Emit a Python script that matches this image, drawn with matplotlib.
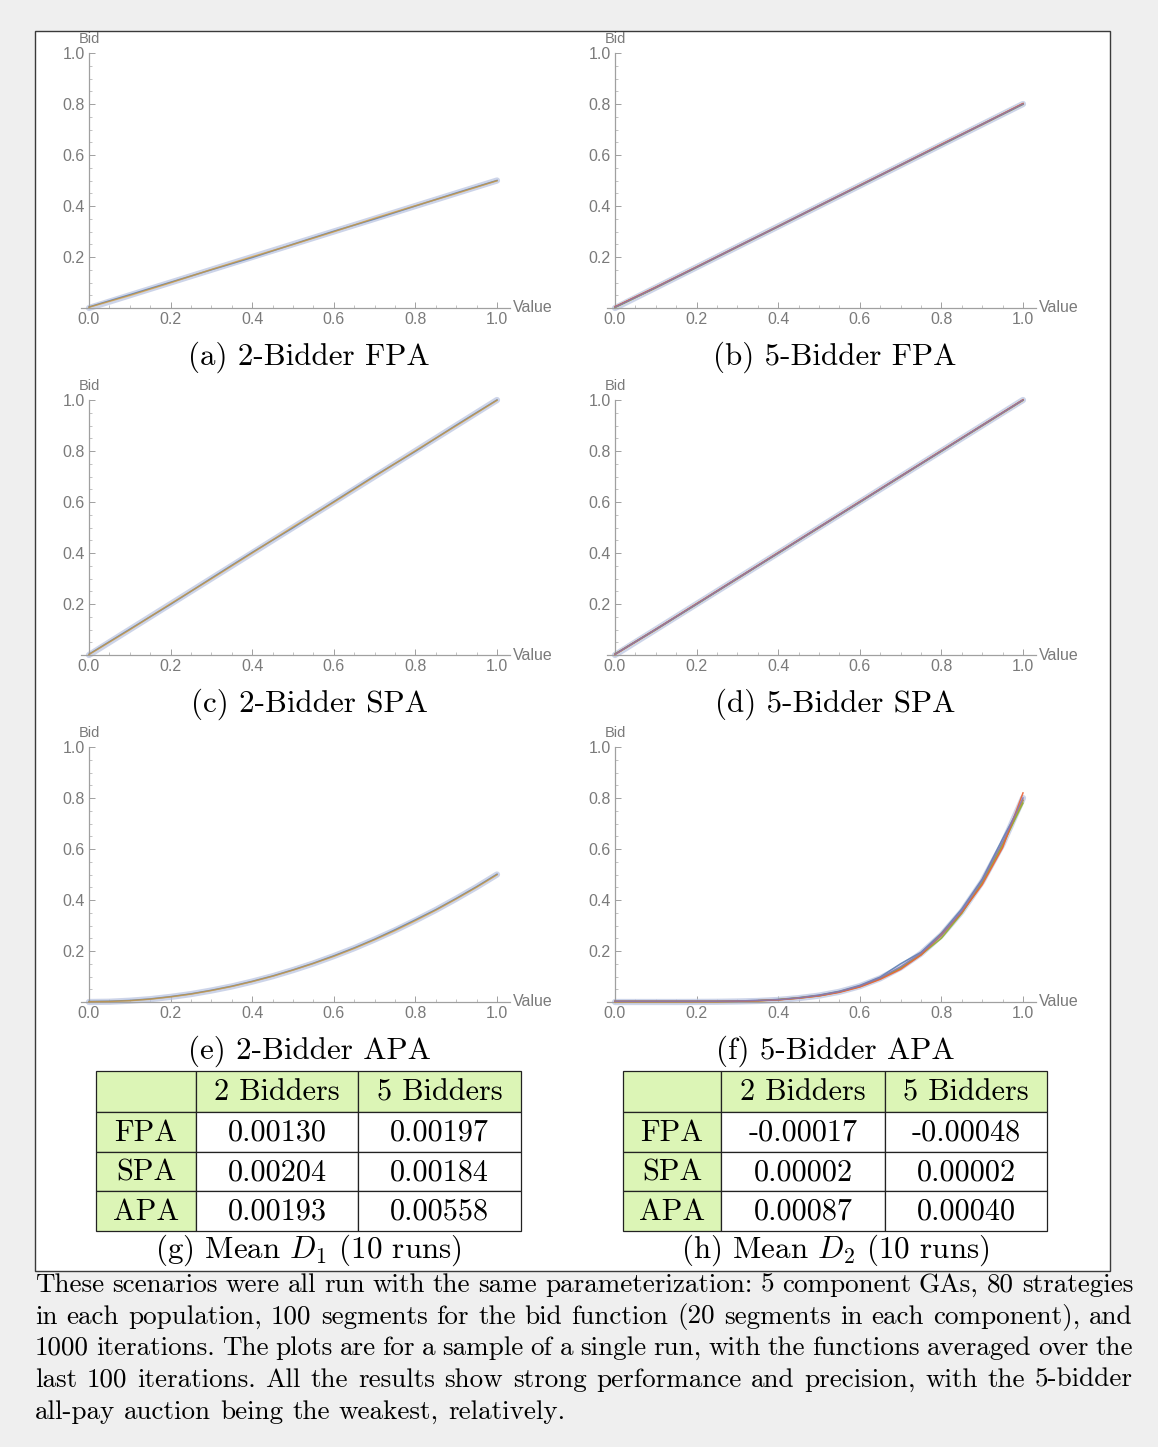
import matplotlib
matplotlib.use("Agg")
import matplotlib.pyplot as plt
from matplotlib.patches import Rectangle
from matplotlib.ticker import MultipleLocator, FixedLocator

plt.rcParams['mathtext.fontset'] = 'cm'

W, H = 1158, 1447

# ---------------- data ----------------
grid11 = [0.0, 0.1, 0.2, 0.3, 0.4, 0.5, 0.6, 0.7, 0.8, 0.9, 1.0]
grid21 = [0.0, 0.05, 0.1, 0.15, 0.2, 0.25, 0.3, 0.35, 0.4, 0.45, 0.5,
          0.55, 0.6, 0.65, 0.7, 0.75, 0.8, 0.85, 0.9, 0.95, 1.0]

fpa2_equilibrium = [0.0, 0.05, 0.10, 0.15, 0.20, 0.25, 0.30, 0.35, 0.40, 0.45, 0.50]
fpa2_bidders = [
    [0.004, 0.052, 0.101, 0.150, 0.198, 0.250, 0.301, 0.349, 0.400, 0.451, 0.500],
    [0.003, 0.049, 0.099, 0.151, 0.201, 0.249, 0.299, 0.352, 0.401, 0.449, 0.499],
]

fpa5_equilibrium = [0.0, 0.08, 0.16, 0.24, 0.32, 0.40, 0.48, 0.56, 0.64, 0.72, 0.80]
fpa5_bidders = [
    [0.004, 0.081, 0.160, 0.241, 0.320, 0.401, 0.480, 0.561, 0.640, 0.721, 0.800],
    [0.003, 0.079, 0.161, 0.239, 0.321, 0.399, 0.481, 0.559, 0.641, 0.719, 0.801],
    [0.002, 0.080, 0.159, 0.240, 0.319, 0.400, 0.479, 0.560, 0.639, 0.720, 0.799],
    [0.005, 0.082, 0.161, 0.241, 0.320, 0.401, 0.481, 0.561, 0.642, 0.721, 0.802],
    [0.003, 0.080, 0.160, 0.240, 0.320, 0.400, 0.480, 0.560, 0.640, 0.720, 0.800],
]

spa2_equilibrium = [0.0, 0.1, 0.2, 0.3, 0.4, 0.5, 0.6, 0.7, 0.8, 0.9, 1.0]
spa2_bidders = [
    [0.003, 0.101, 0.199, 0.301, 0.402, 0.499, 0.601, 0.702, 0.799, 0.901, 1.000],
    [0.002, 0.099, 0.201, 0.299, 0.400, 0.502, 0.599, 0.700, 0.801, 0.899, 0.999],
]

spa5_equilibrium = [0.0, 0.1, 0.2, 0.3, 0.4, 0.5, 0.6, 0.7, 0.8, 0.9, 1.0]
spa5_bidders = [
    [0.003, 0.101, 0.200, 0.301, 0.400, 0.501, 0.600, 0.701, 0.800, 0.901, 1.000],
    [0.002, 0.099, 0.201, 0.299, 0.401, 0.499, 0.601, 0.699, 0.801, 0.899, 0.999],
    [0.004, 0.100, 0.199, 0.300, 0.399, 0.500, 0.599, 0.700, 0.799, 0.900, 1.000],
    [0.003, 0.101, 0.201, 0.301, 0.401, 0.501, 0.601, 0.701, 0.801, 0.901, 1.001],
    [0.003, 0.100, 0.200, 0.300, 0.400, 0.500, 0.600, 0.700, 0.800, 0.900, 1.000],
]

apa2_equilibrium = [0.0, 0.001, 0.005, 0.011, 0.020, 0.031, 0.045, 0.061, 0.080, 0.101, 0.125,
                    0.151, 0.180, 0.211, 0.245, 0.281, 0.320, 0.361, 0.405, 0.451, 0.500]
apa2_bidders = [
    [0.002, 0.003, 0.006, 0.012, 0.021, 0.032, 0.046, 0.062, 0.081, 0.102, 0.126,
     0.152, 0.181, 0.212, 0.246, 0.283, 0.322, 0.362, 0.406, 0.452, 0.501],
    [0.001, 0.002, 0.005, 0.011, 0.020, 0.031, 0.045, 0.061, 0.080, 0.101, 0.125,
     0.151, 0.179, 0.210, 0.244, 0.280, 0.319, 0.360, 0.404, 0.450, 0.499],
]

apa5_equilibrium = [0.0, 0.0, 0.0, 0.0, 0.0003, 0.0008, 0.002, 0.004, 0.008, 0.015, 0.025,
                    0.040, 0.062, 0.093, 0.135, 0.190, 0.262, 0.355, 0.472, 0.619, 0.800]
apa5_bidders = [
    [0.003, 0.003, 0.003, 0.003, 0.003, 0.003, 0.004, 0.006, 0.010, 0.017, 0.027,
     0.042, 0.065, 0.098, 0.150, 0.195, 0.270, 0.365, 0.482, 0.640, 0.790],
    [0.002, 0.002, 0.002, 0.002, 0.002, 0.002, 0.003, 0.005, 0.009, 0.015, 0.024,
     0.039, 0.060, 0.091, 0.132, 0.188, 0.259, 0.350, 0.466, 0.612, 0.792],
    [0.002, 0.002, 0.002, 0.002, 0.002, 0.002, 0.003, 0.005, 0.009, 0.016, 0.025,
     0.040, 0.061, 0.092, 0.134, 0.185, 0.250, 0.348, 0.470, 0.618, 0.780],
    [0.002, 0.002, 0.002, 0.002, 0.002, 0.002, 0.003, 0.005, 0.008, 0.015, 0.024,
     0.038, 0.059, 0.089, 0.128, 0.184, 0.265, 0.352, 0.460, 0.605, 0.820],
    [0.003, 0.003, 0.003, 0.003, 0.003, 0.003, 0.004, 0.006, 0.009, 0.016, 0.026,
     0.041, 0.063, 0.095, 0.138, 0.192, 0.262, 0.358, 0.476, 0.628, 0.800],
]

panel_captions = ["(a) 2-Bidder FPA", "(b) 5-Bidder FPA",
                  "(c) 2-Bidder SPA", "(d) 5-Bidder SPA",
                  "(e) 2-Bidder APA", "(f) 5-Bidder APA"]

x_ticks = [0.0, 0.2, 0.4, 0.6, 0.8, 1.0]
x_tick_labels = ["0.0", "0.2", "0.4", "0.6", "0.8", "1.0"]
y_ticks = [0.2, 0.4, 0.6, 0.8, 1.0]
y_tick_labels = ["0.2", "0.4", "0.6", "0.8", "1.0"]

table_rows = ["FPA", "SPA", "APA"]
table_cols = ["2 Bidders", "5 Bidders"]
d1_values = [["0.00130", "0.00197"], ["0.00204", "0.00184"], ["0.00193", "0.00558"]]
d2_values = [["-0.00017", "-0.00048"], ["0.00002", "0.00002"], ["0.00087", "0.00040"]]
table_captions = [r"(g) Mean $D_1$ (10 runs)", r"(h) Mean $D_2$ (10 runs)"]

paragraph = [
    "These scenarios were all run with the same parameterization: 5 component GAs, 80 strategies",
    "in each population, 100 segments for the bid function (20 segments in each component), and",
    "1000 iterations. The plots are for a sample of a single run, with the functions averaged over the",
    "last 100 iterations.  All the results show strong performance and precision, with the 5-bidder",
    "all-pay auction being the weakest, relatively.",
]

mm_colors = ["#5E81B5", "#E19C24", "#8FB032", "#EB6235", "#8778B3"]

# ---------------- figure ----------------
fig = plt.figure(figsize=(W / 100, H / 100), dpi=100, facecolor="#efefef")

bg = fig.add_axes([0, 0, 1, 1], zorder=-10)
bg.set_xlim(0, W)
bg.set_ylim(H, 0)
bg.axis("off")
bg.add_patch(Rectangle((35, 31), 1075, 1240, facecolor="white",
                       edgecolor="#3a3a3a", lw=1.0))

SERIF = "cmr10"
TICKFONT = "Liberation Sans"
SCALE_X = 408.0
SCALE_Y = 255.0
XMIN, XMAX = -0.02, 1.032

panels = [
    (grid11, fpa2_equilibrium, fpa2_bidders),
    (grid11, fpa5_equilibrium, fpa5_bidders),
    (grid11, spa2_equilibrium, spa2_bidders),
    (grid11, spa5_equilibrium, spa5_bidders),
    (grid21, apa2_equilibrium, apa2_bidders),
    (grid21, apa5_equilibrium, apa5_bidders),
]

col_x0 = [89, 615]
row_y0 = [308, 655, 1002]
axis_gray = "#a0a0a0"
label_gray = "#7a7a7a"
TFS = 11.5

for i, (xs, eq, bidders) in enumerate(panels):
    r, c = divmod(i, 2)
    x0, y0 = col_x0[c], row_y0[r]
    left = x0 + XMIN * SCALE_X
    width = (XMAX - XMIN) * SCALE_X
    ax = fig.add_axes([left / W, 1 - y0 / H, width / W, SCALE_Y / H])
    ax.patch.set_visible(False)
    ax.set_xlim(XMIN, XMAX)
    ax.set_ylim(0, 1.0)
    for s in ["top", "right"]:
        ax.spines[s].set_visible(False)
    ax.spines["left"].set_position(("data", 0))
    for s in ["left", "bottom"]:
        ax.spines[s].set_color(axis_gray)
        ax.spines[s].set_linewidth(0.9)

    ax.plot(xs, eq, color="#bcc6e2", lw=4.5, alpha=0.75, solid_capstyle="round",
            clip_on=False, zorder=2)
    n = len(bidders)
    for k, b in enumerate(bidders):
        alpha = 0.65 if (n == 2 and k == 1) else 0.9
        ax.plot(xs, b, color=mm_colors[k], lw=1.1, alpha=alpha,
                clip_on=False, zorder=3 + k)

    ax.xaxis.set_major_locator(FixedLocator(x_ticks))
    ax.xaxis.set_minor_locator(MultipleLocator(0.05))
    ax.yaxis.set_major_locator(FixedLocator(y_ticks))
    ax.yaxis.set_minor_locator(MultipleLocator(0.05))
    ax.tick_params(which="major", direction="in", length=4.0, width=0.7,
                   color=axis_gray, pad=3)
    ax.tick_params(which="minor", direction="in", length=2.2, width=0.6,
                   color="#b8b8b8")
    ax.set_xticklabels(x_tick_labels, fontsize=TFS, family=TICKFONT,
                       color=label_gray)
    ax.set_yticklabels(y_tick_labels, fontsize=TFS, family=TICKFONT,
                       color=label_gray)

    bg.text(x0, y0 - SCALE_Y - 14, "Bid", ha="center", va="center",
            fontsize=10.5, color=label_gray, family=TICKFONT)
    bg.text(x0 + SCALE_X + 16, y0, "Value", ha="left", va="center",
            fontsize=TFS, color=label_gray, family=TICKFONT)
    bg.text(x0 + 220, y0 + 49, panel_captions[i], ha="center", va="center",
            fontsize=22.3, family=SERIF, color="black")

# ---------------- tables ----------------
row_edges = [1071, 1112, 1152, 1191, 1231]
table_x = [[96, 196, 358, 521], [623, 721, 885, 1047]]
green = "#dcf5b6"
for t, vals in enumerate([d1_values, d2_values]):
    xe = table_x[t]
    for ri in range(4):
        for ci in range(3):
            x_a, x_b = xe[ci], xe[ci + 1]
            y_a, y_b = row_edges[ri], row_edges[ri + 1]
            fc = green if (ri == 0 or ci == 0) else "white"
            bg.add_patch(Rectangle((x_a, y_a), x_b - x_a, y_b - y_a,
                                   facecolor=fc, edgecolor="#222222", lw=0.9))
            if ri == 0 and ci == 0:
                continue
            if ri == 0:
                txt = table_cols[ci - 1]
            elif ci == 0:
                txt = table_rows[ri - 1]
            else:
                txt = vals[ri - 1][ci - 1]
            bg.text((x_a + x_b) / 2, (y_a + y_b) / 2 + 1, txt, ha="center",
                    va="center", fontsize=21.8, family=SERIF)
    bg.text((xe[0] + xe[-1]) / 2 + 0, 1250, table_captions[t], ha="center",
            va="center", fontsize=22.3, family=SERIF)

# ---------------- justified paragraph ----------------
renderer = fig.canvas.get_renderer()
PX0, PX1 = 35, 1133
line_y = [1285, 1317, 1348, 1380, 1412]
PFS = 19.5
for li, line in enumerate(paragraph):
    words = line.split()
    is_last = li == len(paragraph) - 1
    objs = []
    for w_ in words:
        tobj = bg.text(0, line_y[li], w_, ha="left", va="center",
                       fontsize=PFS, family=SERIF)
        objs.append(tobj)
    widths = [o.get_window_extent(renderer).width for o in objs]
    if is_last:
        sp = bg.text(0, 0, "a b", fontsize=PFS, family=SERIF)
        w_ab = sp.get_window_extent(renderer).width
        sp2 = bg.text(0, 0, "ab", fontsize=PFS, family=SERIF)
        w_ab2 = sp2.get_window_extent(renderer).width
        sp.remove(); sp2.remove()
        gap = w_ab - w_ab2
    else:
        gap = (PX1 - PX0 - sum(widths)) / (len(words) - 1)
    x = PX0
    for o, wd in zip(objs, widths):
        o.set_x(x)
        x += wd + gap

fig.savefig("out.png", dpi=100, facecolor=fig.get_facecolor())
